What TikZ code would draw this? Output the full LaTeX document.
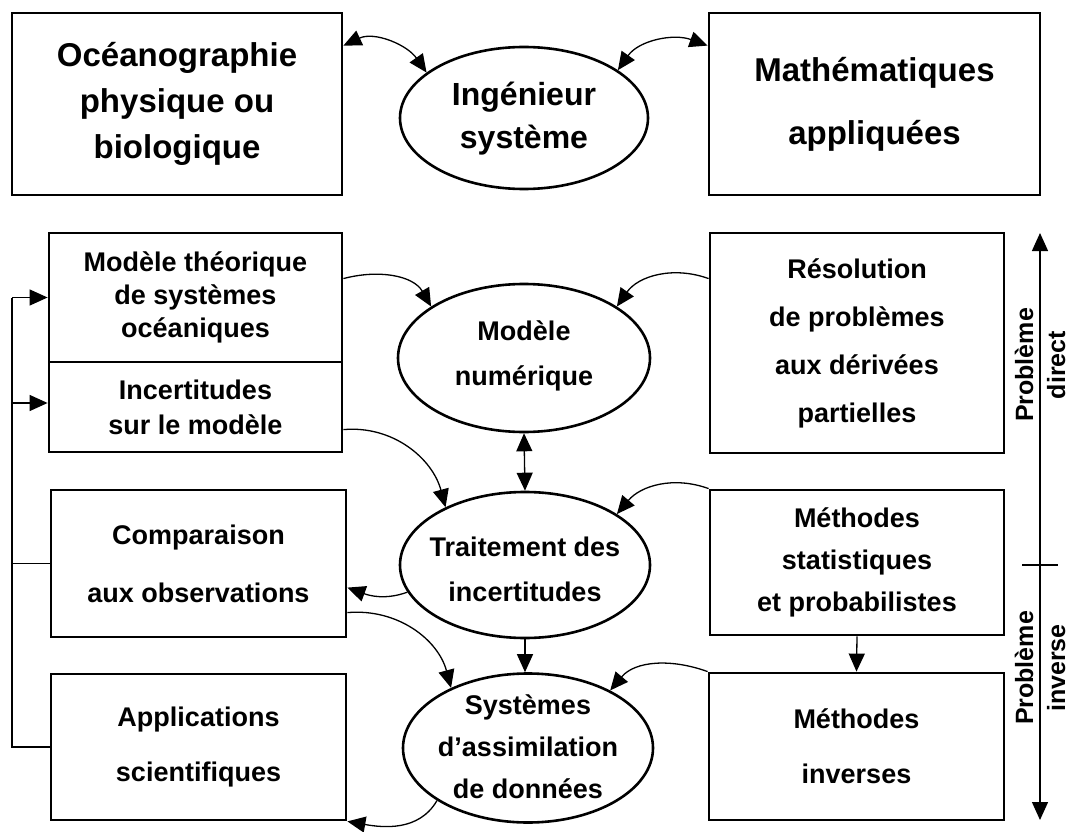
\documentclass[tikz,border=0pt]{standalone}
\usepackage{fontspec}
\setmainfont{Liberation Sans}
\usetikzlibrary{shapes.geometric,arrows.meta}
\newcommand\fsz[2]{\fontsize{#1pt}{#2pt}\selectfont}
\begin{document}
\begin{tikzpicture}[x=1pt,y=1pt,
  box/.style={draw, line width=2.8pt, rectangle, inner sep=0pt, align=center},
  oval/.style={draw, line width=2.6pt, ellipse, inner sep=0pt},
  txt/.style={align=center, inner sep=0pt},
  conn/.style={line width=1.3pt, -{Triangle[length=18pt,width=16pt]}},
  dconn/.style={line width=1.3pt, {Triangle[length=18pt,width=16pt]}-{Triangle[length=18pt,width=16pt]}},
  thinline/.style={line width=1.3pt}]
\useasboundingbox (0,0) rectangle (1069,-832);
\fill[white] (0,0) rectangle (1069,-832);

% top row
\node[box, minimum width=330pt, minimum height=182pt, font=\bfseries\fsz{33}{46}] (ocean) at (177,-104) {Océanographie\\physique ou\\biologique};
\node[box, minimum width=331pt, minimum height=182pt, font=\bfseries\fsz{33}{63}] (math) at (874.5,-104) {Mathématiques\\appliquées};
\node[oval, minimum width=248pt, minimum height=142pt] (ing) at (524,-118) {};
\node[txt, font=\bfseries\fsz{32}{43}] (ingT) at (524,-118.5) {Ingénieur\\système};

% left column
\node[box, minimum width=293pt, minimum height=129pt, font=\bfseries\fsz{27}{33}] (modth) at (195.5,-297.5) {Modèle théorique\\de systèmes\\océaniques};
\node[box, minimum width=293pt, minimum height=90pt, font=\bfseries\fsz{27}{35}] (incert) at (195.5,-407) {Incertitudes\\sur le modèle};
\node[box, minimum width=295pt, minimum height=147pt, font=\bfseries\fsz{27}{58}] (compar) at (198.5,-563.5) {Comparaison\\aux observations};
\node[box, minimum width=295pt, minimum height=146pt, font=\bfseries\fsz{27}{55}] (appl) at (198.5,-747) {Applications\\scientifiques};

% right column
\node[box, minimum width=294pt, minimum height=220pt, font=\bfseries\fsz{27}{48}] (resol) at (857,-343) {Résolution\\de problèmes\\aux dérivées\\partielles};
\node[box, minimum width=294pt, minimum height=145pt, font=\bfseries\fsz{27}{42}] (stat) at (857,-562.5) {Méthodes\\statistiques\\et probabilistes};
\node[box, minimum width=295pt, minimum height=147pt, font=\bfseries\fsz{27}{55}] (inv) at (856.5,-746.5) {Méthodes\\inverses};

% middle ellipses
\node[oval, minimum width=252pt, minimum height=148pt] (modnum) at (524,-358) {};
\node[txt, font=\bfseries\fsz{27}{45}] (modnumT) at (524,-356) {Modèle\\numérique};
\node[oval, minimum width=250pt, minimum height=146pt] (trait) at (525,-565) {};
\node[txt, font=\bfseries\fsz{27}{45}] (traitT) at (525,-569.5) {Traitement des\\incertitudes};
\node[oval, minimum width=250pt, minimum height=149pt] (sys) at (528,-748) {};
\node[txt, font=\bfseries\fsz{27}{42}] (sysT) at (528,-746.5) {Systèmes\\d’assimilation\\de données};

% axis on the right
\coordinate (axtop) at (1040,-233);
\coordinate (axbot) at (1040,-820);
\coordinate (tickL) at (1022,-565);
\coordinate (tickR) at (1058,-565);
\draw[dconn] (axtop) -- (axbot);
\draw[thinline] (tickL) -- (tickR);
\node[txt, rotate=90, font=\bfseries\fsz{25}{32}] (pdir) at (1040,-365) {Problème\\direct};
\node[txt, rotate=90, font=\bfseries\fsz{25}{32}] (pinv) at (1040,-668) {Problème\\inverse};

% bracket on the left
\coordinate (brtop) at (12,-297.5);
\coordinate (brbot) at (12,-747);
\draw[thinline] (brtop) -- (brbot) -- (appl.west);
\draw[conn] (brtop) -- (modth.west);
\draw[conn] (brtop |- incert.west) ++(0,4) -- ([yshift=4pt]incert.west);
\draw[thinline] (brtop |- compar.west) -- (compar.west);

% curved connectors
\draw[dconn] ([yshift=-34pt]ocean.north east) to[out=25,in=125] (ing.155);
\draw[dconn] (ing.27) to[out=55,in=160] ([yshift=-34pt]math.north west);
\draw[conn] ([yshift=-47pt]modth.north east) to[out=15,in=120] (modnum.151);
\draw[conn] ([yshift=-47pt]resol.north west) to[out=160,in=55] (modnum.29);
\draw[conn] ([yshift=-69pt]incert.north east) to[out=5,in=105] (trait.144);
\draw[conn] (stat.north west) to[out=160,in=50] (trait.29);
\draw[conn] (trait.193) to[out=200,in=-20] ([yshift=-99pt]compar.north east);
\draw[conn] ([yshift=-124pt]compar.north east) to[out=5,in=105] (sys.142);
\draw[conn] (inv.north west) to[out=160,in=50] (sys.35);
\draw[conn] (sys.210) to[out=240,in=-10] (appl.south east);

% straight connectors
\draw[dconn] (modnum.south) -- (trait.north);
\draw[conn] (trait.south) -- (trait.south |- sys.north);
\draw[conn] (stat.south) -- (inv.north);
\end{tikzpicture}
\end{document}
